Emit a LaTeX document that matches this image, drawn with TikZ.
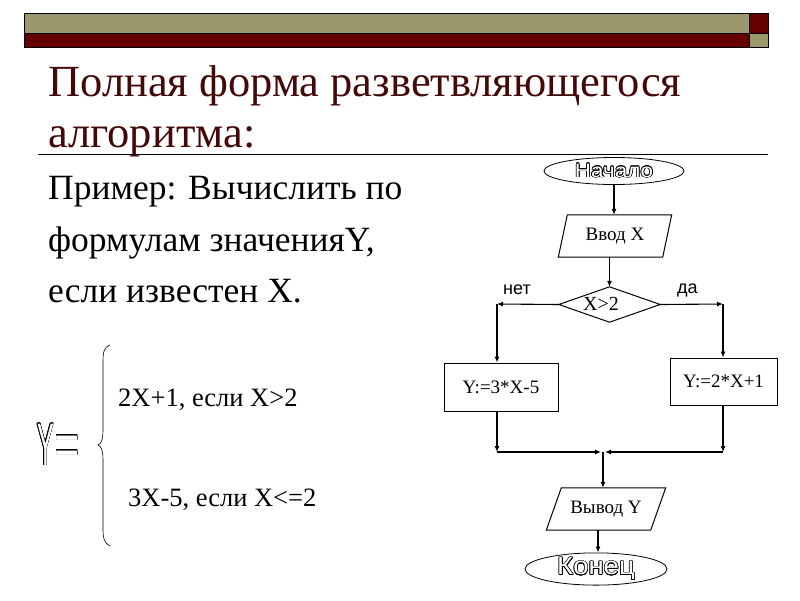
\documentclass[tikz,border=0pt]{standalone}
\usepackage{fontspec}
\setmainfont{Liberation Serif}
\newfontfamily\arialf{Liberation Sans}
\usepackage{contour}
\contourlength{0.6pt}
\usetikzlibrary{arrows.meta,shapes.geometric}
\definecolor{olivebar}{HTML}{9B996B}
\definecolor{redbar}{HTML}{660000}
\definecolor{titlered}{HTML}{440808}
\tikzset{
  txt/.style={inner sep=0pt, anchor=base west},
  arr/.style={-{Latex[length=6pt,width=5pt]}, line width=1.1pt},
  box/.style={draw, line width=1pt, inner sep=0pt, font=\fontsize{19}{22}\selectfont},
  io/.style={inner sep=0pt, font=\fontsize{19}{22}\selectfont},
  term/.style={draw, ellipse, line width=0.8pt, inner sep=0pt},
}
\newcommand{\hollow}[1]{\textcolor{white}{\contour{black}{#1}}}
\begin{document}
\begin{tikzpicture}[x=1pt,y=-1pt]
\useasboundingbox (0,0) rectangle (800,600);
% top bars
\fill[olivebar] (24,13) rectangle (749,33);
\fill[redbar] (24,33) rectangle (749,47);
\fill[redbar] (749,13) rectangle (768,33);
\fill[olivebar] (749,33) rectangle (768,47);
\draw[line width=0.8pt] (24,13) rectangle (768,47);
\draw[line width=0.8pt] (24,33) -- (768,33);
\draw[line width=0.8pt] (749,13) -- (749,47);
% title
\node[txt, text=titlered, font=\fontsize{44.5}{50}\selectfont] (t1) at (48,96) {Полная форма разветвляющегося};
\node[txt, text=titlered, font=\fontsize{44.5}{50}\selectfont] (t2) at (48,147) {алгоритма:};
\draw[line width=0.9pt] (38,154) -- (768,154);
% left text
\node[txt, font=\fontsize{35.5}{40}\selectfont] (p1) at (48,199) {Пример: Вычислить по};
\node[txt, font=\fontsize{35.5}{40}\selectfont] (p2) at (48,251) {формулам значенияY,};
\node[txt, font=\fontsize{35.5}{40}\selectfont] (p3) at (48,302) {если известен X.};
% formula
\node[txt, font=\arialf\fontsize{60}{60}\selectfont] (yeq) at (37,465) {\scalebox{0.42}[1]{\hollow{Y}}\hspace{0.5pt}\scalebox{0.72}[1]{\hollow{=}}};
\draw[line width=0.6pt] (110,345) .. controls (104,347) and (103,352) .. (103,362)
  -- (103,430) .. controls (103,440) and (101,444) .. (98,445)
  .. controls (101,446) and (103,450) .. (103,460)
  -- (103,528) .. controls (103,538) and (104,543) .. (110,546);
\node[txt, font=\fontsize{26.5}{30}\selectfont] (f1) at (118,406) {2X+1, если X>2};
\node[txt, font=\fontsize{26.5}{30}\selectfont] (f2) at (128,506) {3X-5, если X<=2};
% flowchart
\node[term, minimum width=140, minimum height=27, font=\arialf\fontsize{19.5}{21}\selectfont] (start) at (614,171) {\scalebox{1.15}[1]{\hollow{Начало}}};
\node[io, minimum width=104, minimum height=42] (in) at (615,236) {Ввод X};
\draw[line width=1pt] ([xshift=4.5]in.north west) -- ([xshift=4.5]in.north east) -- ([xshift=-4.5]in.south east) -- ([xshift=-4.5]in.south west) -- cycle;
\node[inner sep=0pt, minimum width=101, minimum height=35] (dec) at (609.5,304.5) {};
\draw[line width=1pt] (dec.north) -- (dec.east) -- (dec.south) -- (dec.west) -- cycle;
\node[inner sep=0pt, font=\fontsize{20}{22}\selectfont] (dect) at (601,303.5) {X>2};
\node[txt, font=\arialf\fontsize{18}{20}\selectfont] (no) at (503,294) {нет};
\node[txt, font=\arialf\fontsize{18}{20}\selectfont] (yes) at (677,293) {да};
\node[box, minimum width=114, minimum height=48] (bl) at (501,387) {Y:=3*X-5};
\node[box, minimum width=107, minimum height=47] (br) at (723.5,381.5) {Y:=2*X+1};
\node[io, minimum width=104, minimum height=42] (out) at (606,509) {Вывод Y};
\draw[line width=1pt] ([xshift=7.5]out.north west) -- ([xshift=7.5]out.north east) -- ([xshift=-7.5]out.south east) -- ([xshift=-7.5]out.south west) -- cycle;
\node[term, minimum width=142, minimum height=32, font=\arialf\fontsize{25}{28}\selectfont] (end) at (596,569) {\scalebox{1.1}[1]{\hollow{Конец}}};
\coordinate (cl) at (497,304);
\coordinate (cr) at (723,304);
\coordinate (jl) at (497,452);
\coordinate (jr) at (723,452);
\coordinate (jm) at (603,452);
\draw[arr] (start.south) -- (start.south |- in.north);
\draw[arr] (dec.north |- in.south) -- (dec.north);
\draw[arr] (dec.west) -- (cl);
\draw[arr] (cl) -- (cl |- bl.north);
\draw[arr] (dec.east) -- (cr);
\draw[arr] (cr) -- (cr |- br.north);
\draw[arr] (jl |- bl.south) -- (jl);
\draw[arr] (jl) -- ([xshift=-2]jm);
\draw[arr] (jr |- br.south) -- (jr);
\draw[arr] (jr) -- ([xshift=2]jm);
\draw[arr] (jm) -- (jm |- out.north);
\draw[arr] (598,530) -- (end.north -| 598,530);
\end{tikzpicture}
\end{document}
